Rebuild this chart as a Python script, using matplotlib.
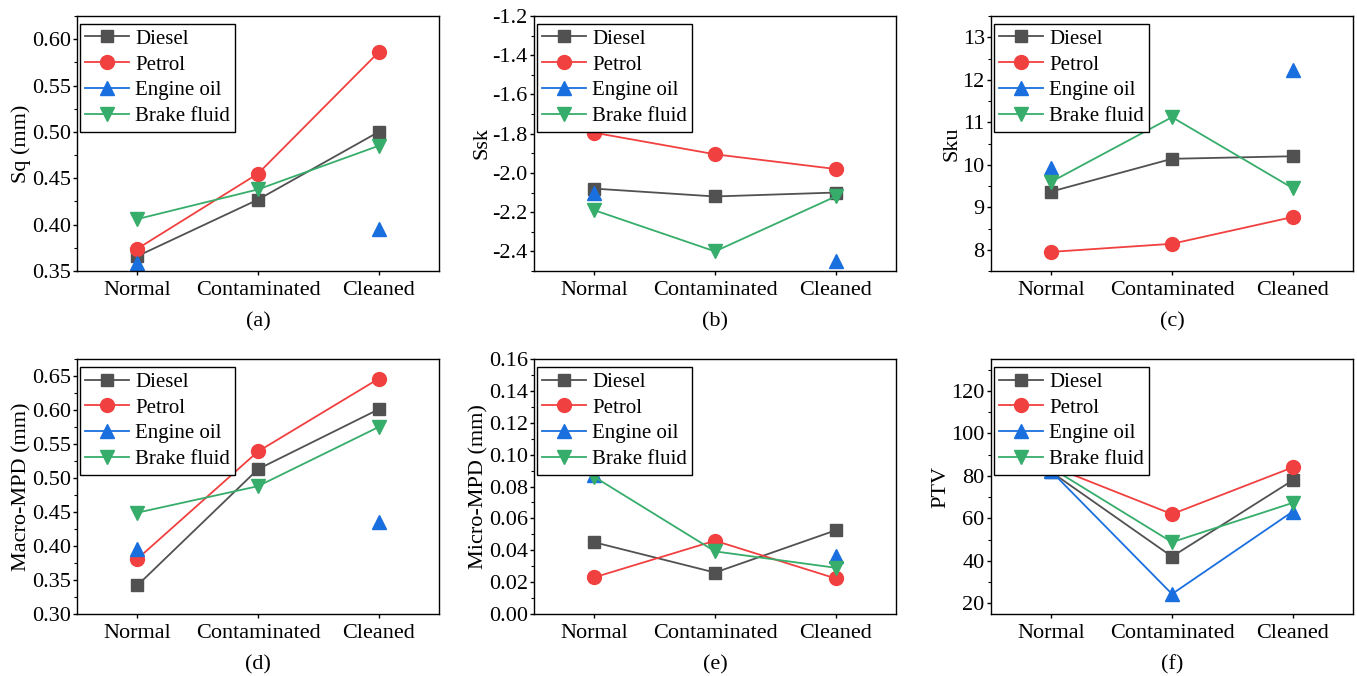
import numpy as np
import matplotlib
matplotlib.use('Agg')
from matplotlib import pyplot as plt
from matplotlib.ticker import MultipleLocator, FormatStrFormatter

plt.rcParams['font.family'] = ['Liberation Serif', 'DejaVu Serif']
plt.rcParams['axes.unicode_minus'] = False

# 数据
stages = ['Normal', 'Contaminated', 'Cleaned']
fluids = ['Diesel', 'Petrol', 'Engine oil', 'Brake fluid']
nan = np.nan

sq_diesel = [0.366, 0.427, 0.500]
sq_petrol = [0.374, 0.455, 0.586]
sq_engine = [0.359, nan, 0.395]
sq_brake = [0.406, 0.438, 0.485]

ssk_diesel = [-2.08, -2.12, -2.10]
ssk_petrol = [-1.795, -1.905, -1.98]
ssk_engine = [-2.10, nan, -2.45]
ssk_brake = [-2.19, -2.40, -2.12]

sku_diesel = [9.37, 10.14, 10.20]
sku_petrol = [7.95, 8.14, 8.77]
sku_engine = [9.93, nan, 12.24]
sku_brake = [9.60, 11.12, 9.45]

macro_diesel = [0.342, 0.513, 0.601]
macro_petrol = [0.381, 0.539, 0.646]
macro_engine = [0.396, nan, 0.436]
macro_brake = [0.449, 0.488, 0.575]

micro_diesel = [0.045, 0.026, 0.0525]
micro_petrol = [0.023, 0.046, 0.0223]
micro_engine = [0.087, nan, 0.0365]
micro_brake = [0.086, 0.0393, 0.029]

ptv_diesel = [81.8, 42.0, 77.9]
ptv_petrol = [84.5, 62.0, 84.0]
ptv_engine = [82.1, 24.4, 63.2]
ptv_brake = [83.7, 48.8, 67.3]

colors = ['#515151', '#F14040', '#1A6FDF', '#37AD6B']
markers = ['s', 'o', '^', 'v']
msizes = [9, 10, 10, 10]

panels = [
    ('Sq (mm)', [sq_diesel, sq_petrol, sq_engine, sq_brake], (0.35, 0.625), 0.05, '%.2f', '(a)'),
    ('Ssk', [ssk_diesel, ssk_petrol, ssk_engine, ssk_brake], (-2.5, -1.2), 0.2, '%.1f', '(b)'),
    ('Sku', [sku_diesel, sku_petrol, sku_engine, sku_brake], (7.5, 13.5), 1, '%d', '(c)'),
    ('Macro-MPD (mm)', [macro_diesel, macro_petrol, macro_engine, macro_brake], (0.30, 0.675), 0.05, '%.2f', '(d)'),
    ('Micro-MPD (mm)', [micro_diesel, micro_petrol, micro_engine, micro_brake], (0.0, 0.16), 0.02, '%.2f', '(e)'),
    ('PTV', [ptv_diesel, ptv_petrol, ptv_engine, ptv_brake], (15, 135), 20, '%d', '(f)'),
]

W, H = 1357, 676
fig = plt.figure(figsize=(W / 100, H / 100), dpi=100)

lefts = [77, 534, 991]
tops = [16, 359]
aw, ah = 362, 255

x = np.arange(len(stages))
for i, (ylabel, series, ylim, major, fmt, tag) in enumerate(panels):
    r, c = divmod(i, 3)
    ax = fig.add_axes([lefts[c] / W, (H - tops[r] - ah) / H, aw / W, ah / H])
    for s, name, col, mk, ms in zip(series, fluids, colors, markers, msizes):
        ax.plot(x, s, color=col, marker=mk, markersize=ms, linewidth=1.3, label=name)
    ax.set_xlim(-0.5, 2.5)
    ax.set_ylim(*ylim)
    ax.set_xticks(x)
    ax.set_xticklabels(stages)
    ax.yaxis.set_major_locator(MultipleLocator(major))
    ax.yaxis.set_minor_locator(MultipleLocator(major / 2))
    ax.yaxis.set_major_formatter(FormatStrFormatter(fmt))
    ax.tick_params(axis='both', which='major', direction='out', length=3, width=1, labelsize=16)
    ax.tick_params(axis='y', which='major', pad=1.5)
    ax.tick_params(axis='x', which='major', pad=4.5)
    ax.tick_params(axis='y', which='minor', direction='out', length=2, width=0.8)
    for sp in ax.spines.values():
        sp.set_linewidth(1.0)
    ax.set_ylabel(ylabel, fontsize=16, labelpad=0.5)
    ax.text(0.5, -0.2, tag, transform=ax.transAxes, ha='center', va='center', fontsize=16)
    leg = ax.legend(loc='upper left', bbox_to_anchor=(3 / aw, 1 - 8 / ah), borderaxespad=0,
                    fontsize=15, frameon=True, fancybox=False,
                    edgecolor='black', framealpha=1,
                    handlelength=2.1, handletextpad=0.3, labelspacing=0.3,
                    borderpad=0.25)
    leg.get_frame().set_linewidth(1.0)

fig.savefig('out.png', dpi=100)
